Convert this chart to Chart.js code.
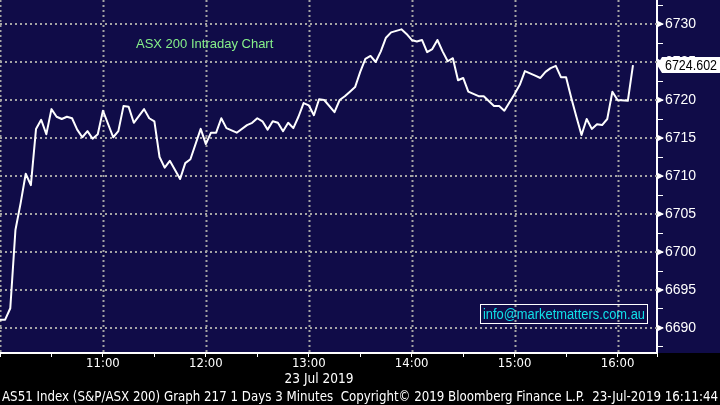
<!DOCTYPE html>
<html>
<head>
<meta charset="utf-8">
<script src="https://cdn.jsdelivr.net/npm/chart.js@4/dist/chart.umd.min.js"></script>
<style>
  html, body { margin: 0; padding: 0; background: #000; }
  #wrap { width: 720px; height: 405px; }
</style>
</head>
<body>
<div id="wrap"><canvas id="chart" width="720" height="405"></canvas></div>
<script>
// minutes after 10:00, 3 minute bars
const times = [0, 3, 6, 9, 12, 15, 18, 21, 24, 27, 30, 33, 36, 39, 42, 45, 48, 51, 54, 57,
  60, 66, 69, 72, 75, 78, 84, 87, 90, 93, 96, 99, 105, 108, 111, 117, 120, 123, 126, 129,
  132, 138, 144, 147, 150, 153, 156, 159, 162, 165, 168, 171, 174, 177, 180, 183, 186, 189, 195, 198,
  201, 204, 207, 210, 213, 216, 219, 222, 225, 228, 231, 234, 237, 240, 243, 246, 249, 252, 255, 258,
  261, 264, 267, 270, 273, 276, 279, 282, 288, 291, 294, 300, 303, 306, 312, 315, 318, 321, 324, 327,
  330, 333, 336, 339, 342, 345, 348, 351, 354, 357, 360, 366, 369];
const values = [6691.1, 6691.1, 6692.6, 6702.9, 6706.4, 6710.3, 6708.8, 6716.2, 6717.4, 6715.5, 6718.8, 6717.8, 6717.5, 6717.8, 6717.6, 6716.1, 6715.1, 6715.9, 6714.9, 6715.5,
  6718.6, 6715.1, 6715.9, 6719.2, 6719.1, 6717.0, 6718.8, 6717.6, 6717.2, 6712.5, 6711.1, 6712.0, 6709.6, 6711.7, 6712.2, 6716.2, 6714.2, 6715.7, 6715.7, 6717.6,
  6716.3, 6715.7, 6716.7, 6717.0, 6717.6, 6717.2, 6716.1, 6717.2, 6717.0, 6715.9, 6717.0, 6716.3, 6717.8, 6719.6, 6719.3, 6718.0, 6720.1, 6720.0, 6718.4, 6720.0,
  6720.5, 6721.1, 6721.7, 6723.7, 6725.4, 6725.8, 6725.0, 6726.4, 6728.2, 6728.9, 6729.1, 6729.3, 6728.7, 6727.9, 6727.7, 6727.9, 6726.3, 6726.7, 6727.9, 6726.4,
  6725.1, 6725.5, 6722.6, 6722.9, 6721.1, 6720.8, 6720.5, 6720.5, 6719.2, 6719.2, 6718.6, 6720.8, 6722.0, 6723.8, 6723.2, 6722.9, 6723.7, 6724.2, 6724.5, 6723.0,
  6723.0, 6720.3, 6717.8, 6715.4, 6717.5, 6716.2, 6716.8, 6716.7, 6717.5, 6721.1, 6720.0, 6719.9, 6724.602];
const hourLabels = ['10:00', '11:00', '12:00', '13:00', '14:00', '15:00', '16:00'];
const lastValue = '6724.602';
const chartTitle = 'ASX 200 Intraday Chart';
const infoText = 'info@marketmatters.com.au';
const dateText = '23 Jul 2019';
const footerText = 'AS51 Index (S&P/ASX 200) Graph 217 1 Days 3 Minutes  Copyright\u00A9 2019 Bloomberg Finance L.P.  23-Jul-2019 16:11:44';

const navy = '#100c48';
const gridGray = '#a4a4a4';
const narrow = "'DejaVu Sans Condensed', 'Liberation Sans Narrow', sans-serif";
const sans = "'Liberation Sans', Arial, sans-serif";

const points = times.map((t, i) => ({ x: t, y: values[i] }));

// text squeezed to a given width (the Bloomberg font is narrow)
function fitText(ctx, text, x, y, width, align) {
  const w = ctx.measureText(text).width;
  const sx = Math.min(1, width / w);
  ctx.save();
  ctx.translate(x, y);
  ctx.scale(sx, 1);
  ctx.textAlign = align;
  ctx.fillText(text, 0, 0);
  ctx.restore();
}

const decor = {
  id: 'decor',
  beforeDraw(chart) {
    const ctx = chart.ctx;
    const a = chart.chartArea;
    ctx.save();
    ctx.fillStyle = '#000';
    ctx.fillRect(0, 0, chart.width, chart.height);
    ctx.fillStyle = navy;
    ctx.fillRect(0, 0, chart.width, a.bottom);
    ctx.restore();
  },
  beforeDatasetsDraw(chart) {
    // dotted grid from the scales' own ticks
    const ctx = chart.ctx;
    const a = chart.chartArea;
    const { x, y } = chart.scales;
    ctx.save();
    ctx.strokeStyle = gridGray;
    ctx.lineWidth = 2;
    ctx.setLineDash([2, 3]);
    x.ticks.forEach(t => {
      if (t.value % 60 !== 0) return;
      const px = Math.round(x.getPixelForValue(t.value)) + 0.5;
      ctx.beginPath();
      ctx.moveTo(px, a.top);
      ctx.lineTo(px, a.bottom);
      ctx.stroke();
    });
    y.ticks.forEach(t => {
      if (Math.abs(t.value % 5) > 0.01) return;
      const py = Math.round(y.getPixelForValue(t.value));
      ctx.beginPath();
      ctx.moveTo(a.left, py);
      ctx.lineTo(a.right, py);
      ctx.stroke();
    });
    ctx.restore();
  },
  afterDraw(chart) {
    const ctx = chart.ctx;
    const a = chart.chartArea;
    const y = chart.scales.y;
    ctx.save();

    // arrow markers on the major ticks
    ctx.fillStyle = '#fff';
    y.ticks.forEach(t => {
      if (Math.abs(t.value % 5) > 0.01) return;
      const py = y.getPixelForValue(t.value);
      ctx.beginPath();
      ctx.moveTo(a.right, py - 3.5);
      ctx.lineTo(a.right + 7, py);
      ctx.lineTo(a.right, py + 3.5);
      ctx.closePath();
      ctx.fill();
    });

    // last value tag
    const ly = Math.round(y.getPixelForValue(values[values.length - 1]));
    ctx.beginPath();
    ctx.moveTo(a.right, ly);
    ctx.lineTo(a.right + 5, ly - 8);
    ctx.lineTo(chart.width, ly - 8);
    ctx.lineTo(chart.width, ly + 8);
    ctx.lineTo(a.right + 5, ly + 8);
    ctx.closePath();
    ctx.fill();
    ctx.fillStyle = '#000';
    ctx.font = '14px ' + sans;
    ctx.textBaseline = 'middle';
    fitText(ctx, lastValue, a.right + 8, ly + 1, 52, 'left');

    // title
    ctx.fillStyle = '#86f08a';
    ctx.font = '13px ' + sans;
    ctx.textAlign = 'left';
    ctx.fillText(chartTitle, 136, 44);

    // info box
    ctx.strokeStyle = '#fff';
    ctx.lineWidth = 1;
    ctx.strokeRect(480.5, 304.5, 167, 19);
    ctx.fillStyle = '#10e0e8';
    ctx.font = '14px ' + sans;
    fitText(ctx, infoText, 564, 315, 162, 'center');

    // date and footer
    ctx.fillStyle = '#fff';
    ctx.font = '14px ' + narrow;
    fitText(ctx, dateText, 319, 379, 69, 'center');
    ctx.font = '14px ' + narrow;
    fitText(ctx, footerText, 2, 397, 716, 'left');
    ctx.restore();
  }
};

new Chart(document.getElementById('chart'), {
  type: 'line',
  data: {
    datasets: [{
      data: points,
      borderColor: '#ffffff',
      borderWidth: 2,
      pointRadius: 0,
      tension: 0,
      borderJoinStyle: 'round'
    }]
  },
  options: {
    responsive: false,
    animation: false,
    layout: { padding: 0 },
    plugins: { legend: { display: false }, tooltip: { enabled: false } },
    scales: {
      x: {
        type: 'linear',
        min: 0,
        max: 383,
        afterFit(s) { s.height = 52; s.paddingLeft = 0; s.paddingRight = 0; },
        ticks: {
          stepSize: 30,
          autoSkip: false,
          maxRotation: 0,
          padding: -1,
          color: '#fff',
          font: { family: narrow, size: 13 },
          callback: v => (v % 60 === 0 && v > 0) ? hourLabels[v / 60] : ''
        },
        grid: {
          drawOnChartArea: false,
          color: '#fff',
          tickColor: '#fff',
          tickLength: 4,
          tickWidth: 1
        },
        border: { display: true, color: '#fff', width: 2 }
      },
      y: {
        position: 'right',
        min: 6686.71,
        max: 6733.16,
        afterFit(s) { s.width = 63; s.paddingTop = 0; s.paddingBottom = 0; },
        ticks: {
          stepSize: 2.5,
          autoSkip: false,
          includeBounds: false,
          padding: 2,
          color: '#fff',
          font: { family: sans, size: 14 },
          callback: v => (Math.abs(v % 5) < 0.01) ? String(v) : ''
        },
        grid: {
          drawOnChartArea: false,
          color: '#fff',
          tickColor: '#fff',
          tickLength: 6,
          tickWidth: 1
        },
        border: { display: true, color: '#fff', width: 2 }
      }
    }
  },
  plugins: [decor]
});
</script>
</body>
</html>
